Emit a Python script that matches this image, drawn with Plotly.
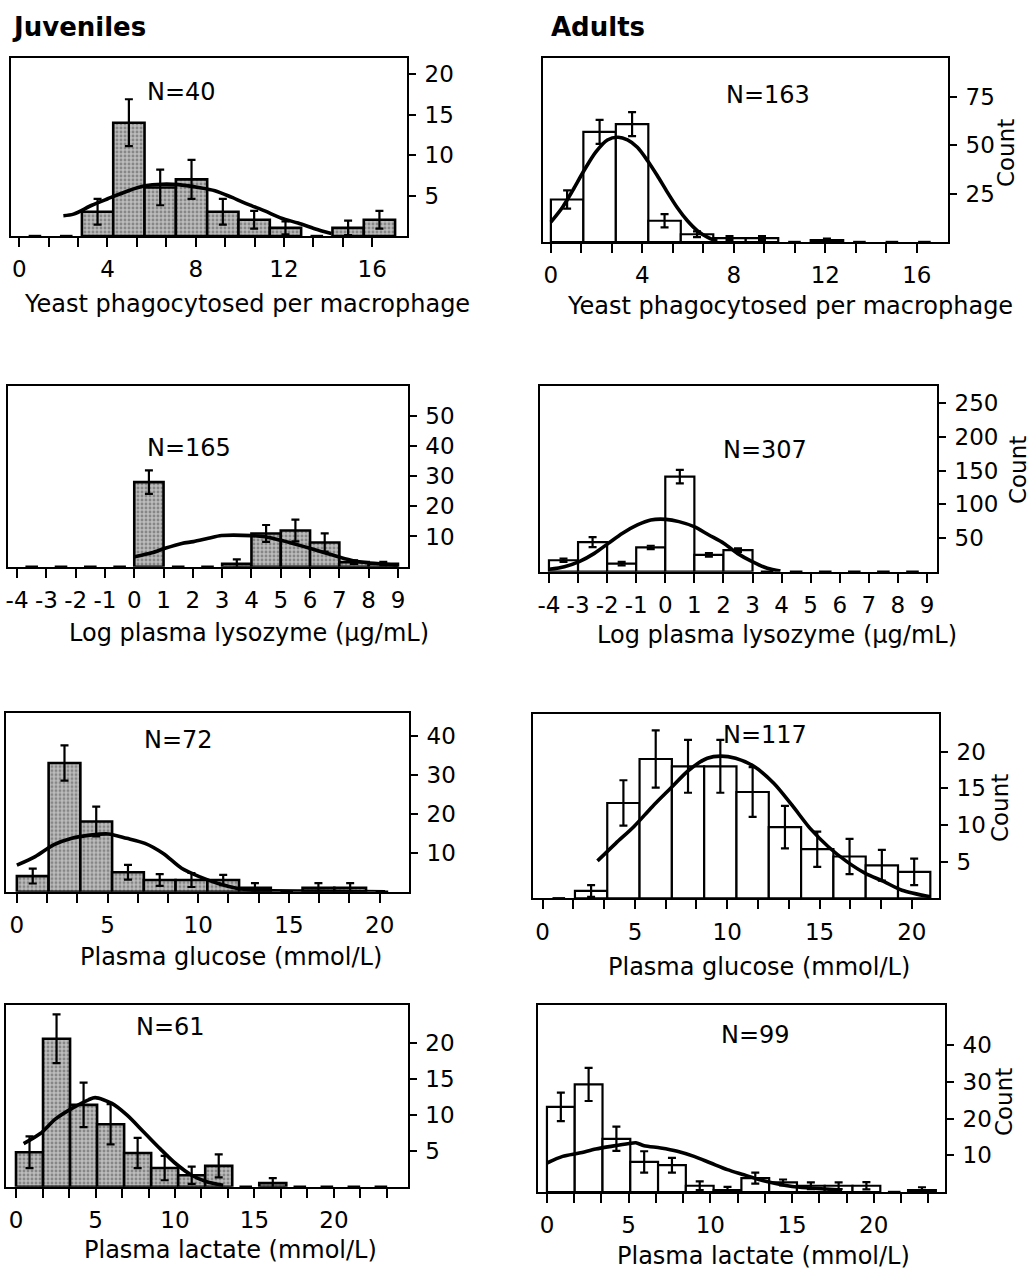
import plotly.graph_objects as go

W, H = 1033, 1272
FONT = "DejaVu Sans"

# ---------------- data ----------------
# Yeast phagocytosed per macrophage (bins of 1.42 starting at 0)
yeast_bin_start, yeast_bin_width = 0.0, 1.42
yeast_juv_counts = [0, 0, 3, 14, 6, 7, 3, 2, 1, 0, 1, 2]
yeast_juv_err = [0, 0, 1.6, 2.9, 2.2, 2.4, 1.6, 1.1, 0.8, 0, 0.9, 1.1]
yeast_juv_curve_x = [2.0, 2.46, 3.29, 4.01, 4.95, 5.7, 6.46, 7.21, 8.12, 8.87, 9.62,
                     10.38, 11.13, 11.89, 12.64, 13.39, 14.15]
yeast_juv_curve_y = [2.5, 2.7, 3.8, 4.6, 5.6, 6.2, 6.4, 6.35, 6.0, 5.6, 4.8,
                     3.9, 3.1, 2.2, 1.6, 0.9, 0.3]

yeast_ad_counts = [22, 57, 61, 11, 4, 2, 2, 0, 1, 0, 0, 0]
yeast_ad_err = [4.7, 6.2, 6.2, 3.4, 1.5, 1.0, 1.0, 0, 0.8, 0, 0, 0]
yeast_ad_curve_x = [0.0, 0.51, 0.95, 1.45, 1.96, 2.47, 2.94, 3.35, 3.78, 4.22, 4.65,
                    5.09, 5.53, 5.96, 6.4, 6.84, 7.27]
yeast_ad_curve_y = [10.3, 18, 26.6, 37, 46.5, 52.8, 54.2, 52.8, 49, 42.2, 34.4,
                    25.8, 17.7, 11.1, 5.9, 2.5, 0.4]

# Log plasma lysozyme (unit bins from -4 to 9)
lys_bin_start, lys_bin_width = -4.0, 1.0
lys_juv_counts = [0, 0, 0, 0, 28, 0, 0, 1, 11, 12, 8, 1.5, 1]
lys_juv_err = [0, 0, 0, 0, 3.9, 0, 0, 1.4, 2.8, 3.6, 3.0, 0.6, 0.6]
lys_juv_curve_x = [0.01, 0.6, 1.05, 1.62, 2.02, 2.53, 2.98, 4.0, 4.46, 4.97, 5.48,
                   5.99, 6.5, 6.96, 7.47, 7.98, 8.49, 9.0]
lys_juv_curve_y = [3.3, 4.6, 6.1, 7.7, 8.3, 9.4, 10.3, 10.3, 9.9, 8.8, 7.5,
                   6.1, 4.6, 3.3, 2.0, 1.3, 0.9, 0.4]

lys_ad_counts = [17, 44, 12, 36, 141, 25, 32, 0, 0, 0, 0, 0, 0]
lys_ad_err = [2.5, 7.4, 2.5, 2.5, 10, 2.5, 2.5, 0, 0, 0, 0, 0, 0]
lys_ad_curve_x = [-3.99, -3.47, -2.96, -2.44, -1.96, -1.47, -0.96, -0.5, 0.02, 0.47,
                  0.99, 1.5, 2.02, 2.48, 2.99, 3.51, 3.96]
lys_ad_curve_y = [3.5, 7.4, 14.9, 27.2, 42, 57, 69.3, 76.7, 77.7, 74.3,
                  66.8, 54.5, 42, 27.2, 14.9, 5, 1]

# Plasma glucose (bins of 1.75 starting at 0)
glu_bin_start, glu_bin_width = 0.0, 1.75
glu_juv_counts = [4, 33, 18, 5, 3, 3, 3, 1, 0, 1, 1, 0]
glu_juv_err = [1.9, 4.5, 3.8, 1.9, 1.5, 1.8, 1.3, 1.2, 0, 1.2, 1.2, 0]
glu_juv_curve_x = [0.0, 1.01, 2.02, 3.03, 4.04, 5.04, 6.05, 7.06, 8.07, 9.08, 10.09,
                   11.1, 12.11, 13.03, 14.03, 16.6, 20.3]
glu_juv_curve_y = [6.8, 9.0, 12, 13.7, 14.5, 14.8, 13.7, 12.4, 9.8, 6.0, 3.8,
                   2.1, 0.9, 0.4, 0.25, 0.15, 0.0]

glu_ad_counts = [0, 1, 13, 19, 18, 18, 14.5, 9.7, 6.7, 5.7, 4.5, 3.6]
glu_ad_err = [0, 0.8, 3.1, 3.9, 3.6, 3.6, 3.4, 2.9, 2.4, 2.4, 2.1, 1.8]
glu_ad_curve_x = [2.97, 3.96, 4.95, 5.94, 6.93, 7.93, 8.92, 9.64, 10.45, 11.44, 12.52,
                  13.51, 14.5, 15.49, 16.48, 17.48, 18.47, 19.46, 21.0]
glu_ad_curve_y = [5.1, 7.5, 9.8, 12.5, 15, 17.5, 19.1, 19.4, 19.1, 18, 15.7,
                  12.7, 9.5, 7.0, 5.0, 3.4, 2.3, 1.1, 0.2]

# Plasma lactate (bins of 1.7 starting at 0)
lac_bin_start, lac_bin_width = 0.0, 1.7
lac_juv_counts = [4.8, 20.6, 11.4, 8.7, 4.7, 2.6, 1.6, 2.9, 0, 0.5, 0, 0, 0, 0]
lac_juv_err = [2.2, 3.4, 3.1, 2.8, 2.1, 1.7, 1.2, 1.6, 0, 0.7, 0, 0, 0, 0]
lac_juv_curve_x = [0.48, 1.53, 2.47, 3.52, 4.56, 4.98, 6.03, 6.97, 8.0, 9.06, 10.0,
                   11.05, 11.99, 13.03]
lac_juv_curve_y = [6.0, 7.4, 9.4, 10.9, 12.1, 12.4, 11.6, 10.0, 7.7, 5.3, 3.3,
                   1.6, 0.7, 0.2]

lac_ad_counts = [23.2, 29.3, 14.5, 8.2, 7.3, 1.7, 0.5, 3.8, 2.6, 1.7, 1.7, 1.7, 0, 0.5]
lac_ad_err = [3.9, 4.5, 3.3, 2.9, 2.0, 1.2, 0.9, 1.5, 0.8, 0.9, 0.9, 1.0, 0, 0.8]
lac_ad_curve_x = [0.0, 0.96, 1.98, 2.99, 4.01, 5.03, 5.44, 5.95, 6.96, 7.98, 9.0,
                  10.02, 11.04, 12.05, 12.97, 13.99, 15.01, 16.03, 17.04, 18.06]
lac_ad_curve_y = [7.9, 9.7, 10.6, 11.7, 12.5, 13.2, 13.4, 12.6, 12.0, 11.1, 9.7,
                  7.9, 6.1, 4.7, 3.4, 2.3, 1.5, 1.1, 0.8, 0.5]

# axis tick labels
yeast_xticks = [0, 4, 8, 12, 16]
lys_xticks = list(range(-4, 10))
conc_xticks = [0, 5, 10, 15, 20]
yeast_juv_yticks = [5, 10, 15, 20]
yeast_ad_yticks = [25, 50, 75]
lys_juv_yticks = [10, 20, 30, 40, 50]
lys_ad_yticks = [50, 100, 150, 200, 250]
glu_juv_yticks = [10, 20, 30, 40]
glu_ad_yticks = [5, 10, 15, 20]
lac_juv_yticks = [5, 10, 15, 20]
lac_ad_yticks = [10, 20, 30, 40]

yeast_title = "Yeast phagocytosed per macrophage"
lys_title = "Log plasma lysozyme (\u00b5g/mL)"
glu_title = "Plasma glucose (mmol/L)"
lac_title = "Plasma lactate (mmol/L)"

# ---------------- panel layout (pixel boxes) ----------------
panels = [
    dict(box=(9, 406, 58, 236), xr=(-0.376, 17.59), yr=22.0,
         start=yeast_bin_start, width=yeast_bin_width, counts=yeast_juv_counts,
         err=yeast_juv_err, cx=yeast_juv_curve_x, cy=yeast_juv_curve_y,
         xt=yeast_xticks, minor=[i * 4 / 3 for i in range(13)], yt=yeast_juv_yticks,
         juv=True, n="N=40", npos=(180, 92), title=yeast_title, tpos=(245, 304),
         count=None),
    dict(box=(541.7, 948, 58, 242), xr=(-0.36, 17.37), yr=95.2,
         start=yeast_bin_start, width=yeast_bin_width, counts=yeast_ad_counts,
         err=yeast_ad_err, cx=yeast_ad_curve_x, cy=yeast_ad_curve_y,
         xt=yeast_xticks, minor=[i * 4 / 3 for i in range(13)], yt=yeast_ad_yticks,
         juv=False, n="N=163", npos=(767, 95), title=yeast_title, tpos=(790, 306),
         count=(1006, 153)),
    dict(box=(6, 406.7, 386, 566.7), xr=(-4.31, 9.34), yr=59.8,
         start=lys_bin_start, width=lys_bin_width, counts=lys_juv_counts,
         err=lys_juv_err, cx=lys_juv_curve_x, cy=lys_juv_curve_y,
         xt=lys_xticks, minor=None, yt=lys_juv_yticks,
         juv=True, n="N=165", npos=(187, 448), title=lys_title, tpos=(247, 633),
         count=None),
    dict(box=(539, 937, 386, 571.7), xr=(-4.31, 9.35), yr=275.5,
         start=lys_bin_start, width=lys_bin_width, counts=lys_ad_counts,
         err=lys_ad_err, cx=lys_ad_curve_x, cy=lys_ad_curve_y,
         xt=lys_xticks, minor=None, yt=lys_ad_yticks,
         juv=False, n="N=307", npos=(764, 450), title=lys_title, tpos=(777, 635),
         count=(1018, 470)),
    dict(box=(4, 408, 712.7, 891.7), xr=(-0.6, 21.63), yr=45.9,
         start=glu_bin_start, width=glu_bin_width, counts=glu_juv_counts,
         err=glu_juv_err, cx=glu_juv_curve_x, cy=glu_juv_curve_y,
         xt=conc_xticks, minor=[i * 5 / 3 for i in range(13)], yt=glu_juv_yticks,
         juv=True, n="N=72", npos=(177, 740), title=glu_title, tpos=(229, 957),
         count=None),
    dict(box=(531.7, 939, 714, 898.3), xr=(-0.54, 21.48), yr=25.14,
         start=glu_bin_start, width=glu_bin_width, counts=glu_ad_counts,
         err=glu_ad_err, cx=glu_ad_curve_x, cy=glu_ad_curve_y,
         xt=conc_xticks, minor=[i * 5 / 3 for i in range(13)], yt=glu_ad_yticks,
         juv=False, n="N=117", npos=(764, 735), title=glu_title, tpos=(758, 967),
         count=(1000, 808)),
    dict(box=(4, 406.7, 1005, 1186.7), xr=(-0.63, 24.65), yr=25.3,
         start=lac_bin_start, width=lac_bin_width, counts=lac_juv_counts,
         err=lac_juv_err, cx=lac_juv_curve_x, cy=lac_juv_curve_y,
         xt=conc_xticks, minor=[i * 5 / 3 for i in range(15)], yt=lac_juv_yticks,
         juv=True, n="N=61", npos=(169, 1027), title=lac_title, tpos=(229, 1250),
         count=None),
    dict(box=(537, 945, 1005, 1192), xr=(-0.55, 24.37), yr=50.95,
         start=lac_bin_start, width=lac_bin_width, counts=lac_ad_counts,
         err=lac_ad_err, cx=lac_ad_curve_x, cy=lac_ad_curve_y,
         xt=conc_xticks, minor=[i * 5 / 3 for i in range(15)], yt=lac_ad_yticks,
         juv=False, n="N=99", npos=(755, 1035), title=lac_title, tpos=(763, 1256),
         count=(1004, 1102)),
]

fig = go.Figure()
annotations = []
layout_axes = {}
TICKFONT = dict(family=FONT, size=23, color="black")

for i, p in enumerate(panels, start=1):
    xa = "x" if i == 1 else f"x{i}"
    ya = "y" if i == 1 else f"y{i}"
    L, R, T, B = p["box"]
    centers = [p["start"] + p["width"] * (k + 0.5) for k in range(len(p["counts"]))]

    # non-empty bins become bars with error bars
    bx = [c for c, v in zip(centers, p["counts"]) if v > 0]
    by = [v for v in p["counts"] if v > 0]
    be = [e for v, e in zip(p["counts"], p["err"]) if v > 0]
    # empty bins only show a short cap on the baseline
    zx = [c for c, v in zip(centers, p["counts"]) if v == 0]

    if p["juv"]:
        marker = dict(color="#a8a8a8",
                      pattern=dict(shape=".", fgcolor="#505050", bgcolor="#bcbcbc",
                                   size=4, solidity=0.4),
                      line=dict(color="black", width=2.6))
    else:
        marker = dict(color="white", line=dict(color="black", width=2.2))

    fig.add_trace(go.Bar(
        x=bx, y=by, width=p["width"], marker=marker,
        error_y=dict(type="data", array=be, visible=True, color="black",
                     thickness=2.2, width=4),
        xaxis=xa, yaxis=ya, showlegend=False, hoverinfo="skip"))

    fig.add_trace(go.Scatter(
        x=zx, y=[0] * len(zx), mode="markers",
        marker=dict(symbol="line-ew", size=9, color="black",
                    line=dict(color="black", width=2.4)),
        cliponaxis=False,
        xaxis=xa, yaxis=ya, showlegend=False, hoverinfo="skip"))

    fig.add_trace(go.Scatter(
        x=p["cx"], y=p["cy"], mode="lines",
        line=dict(color="black", width=3.6, shape="spline", smoothing=0.8),
        xaxis=xa, yaxis=ya, showlegend=False, hoverinfo="skip"))

    xkey = "xaxis" if i == 1 else f"xaxis{i}"
    ykey = "yaxis" if i == 1 else f"yaxis{i}"
    xaxis = dict(
        domain=[L / W, R / W], range=list(p["xr"]), anchor=ya,
        showline=True, mirror=True, linecolor="black", linewidth=1.6,
        showgrid=False, zeroline=False,
        tickmode="array", tickvals=p["xt"], ticktext=[str(v) for v in p["xt"]],
        ticks="outside", ticklen=9, tickwidth=1.5, tickcolor="black",
        ticklabelstandoff=3, tickfont=TICKFONT,
    )
    if p["minor"] is not None:
        xaxis["minor"] = dict(tickmode="array", tickvals=p["minor"], ticks="outside",
                              ticklen=9, tickwidth=1.5, tickcolor="black",
                              showgrid=False)
    yaxis = dict(
        domain=[1 - B / H, 1 - T / H], range=[0, p["yr"]], anchor=xa, side="right",
        showline=True, mirror=True, linecolor="black", linewidth=1.6,
        showgrid=False, zeroline=False,
        tickmode="array", tickvals=p["yt"], ticktext=[str(v) for v in p["yt"]],
        ticks="outside", ticklen=7, tickwidth=1.5, tickcolor="black",
        ticklabelstandoff=4, tickfont=TICKFONT,
    )
    layout_axes[xkey] = xaxis
    layout_axes[ykey] = yaxis

    nx, ny = p["npos"]
    annotations.append(dict(x=nx / W, y=1 - ny / H, xref="paper", yref="paper",
                            text=p["n"], showarrow=False, xanchor="center",
                            yanchor="middle",
                            font=dict(family=FONT, size=24, color="black")))
    tx, ty = p["tpos"]
    annotations.append(dict(x=tx / W, y=1 - ty / H, xref="paper", yref="paper",
                            text=p["title"], showarrow=False, xanchor="center",
                            yanchor="middle",
                            font=dict(family=FONT, size=24, color="black")))
    if p["count"] is not None:
        cx, cy = p["count"]
        annotations.append(dict(x=cx / W, y=1 - cy / H, xref="paper", yref="paper",
                                text="Count", showarrow=False, textangle=-90,
                                xanchor="center", yanchor="middle",
                                font=dict(family=FONT, size=23, color="black")))

# column headers
annotations.append(dict(x=8 / W, y=1 - 27 / H, xref="paper", yref="paper",
                        text="<b>Juveniles</b>", showarrow=False, xanchor="left",
                        yanchor="middle", font=dict(family=FONT, size=26, color="black")))
annotations.append(dict(x=548 / W, y=1 - 27 / H, xref="paper", yref="paper",
                        text="<b>Adults</b>", showarrow=False, xanchor="left",
                        yanchor="middle", font=dict(family=FONT, size=26, color="black")))

fig.update_layout(
    width=W, height=H, autosize=False,
    margin=dict(l=0, r=0, t=0, b=0),
    paper_bgcolor="white", plot_bgcolor="white",
    barmode="overlay",
    annotations=annotations,
    font=dict(family=FONT, color="black"),
    **layout_axes,
)

fig.write_html("out.html")
